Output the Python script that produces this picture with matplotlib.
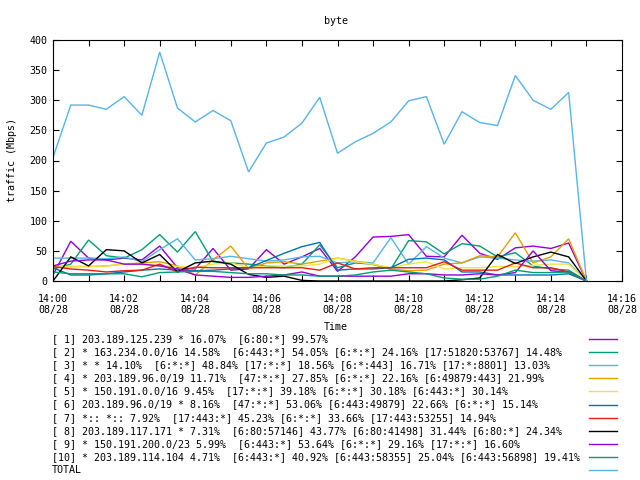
import matplotlib
matplotlib.use("Agg")
import matplotlib.pyplot as plt
import matplotlib.dates as mdates
from matplotlib.lines import Line2D
import datetime as dt

# ---------------- data ----------------
start_time = dt.datetime(2023, 8, 28, 14, 0, 0)
n_points = 31
step_seconds = 30

s1 = [10, 66, 38, 35, 38, 35, 58, 22, 20, 54, 18, 20, 52, 28, 40, 54, 16, 40, 73, 74, 77, 41, 40, 76, 46, 36, 55, 58, 54, 63, 0]
s2 = [20, 28, 68, 42, 38, 52, 77, 48, 82, 32, 30, 28, 25, 22, 28, 60, 22, 30, 28, 20, 67, 65, 45, 62, 58, 40, 47, 25, 20, 18, 0]
s3 = [38, 38, 38, 37, 40, 32, 52, 70, 35, 37, 41, 37, 33, 35, 40, 41, 30, 32, 30, 72, 28, 57, 38, 30, 40, 38, 35, 33, 35, 30, 0]
s4 = [22, 24, 24, 25, 28, 30, 32, 25, 10, 35, 58, 20, 30, 32, 28, 33, 38, 33, 27, 20, 17, 18, 28, 30, 42, 40, 80, 30, 40, 70, 0]
s5 = [25, 24, 24, 25, 28, 28, 25, 24, 22, 28, 30, 22, 25, 25, 25, 28, 38, 32, 28, 22, 28, 32, 20, 22, 22, 24, 24, 26, 28, 28, 0]
s6 = [22, 10, 10, 12, 15, 18, 20, 18, 17, 18, 20, 22, 34, 46, 57, 64, 18, 20, 20, 22, 36, 38, 35, 15, 15, 10, 10, 10, 10, 12, 0]
s7 = [24, 20, 18, 15, 17, 18, 28, 15, 23, 22, 22, 22, 22, 22, 22, 18, 30, 20, 22, 22, 22, 22, 32, 18, 18, 18, 30, 22, 22, 15, 0]
s8 = [0, 40, 25, 52, 50, 30, 44, 15, 30, 33, 28, 11, 6, 8, 1, 0, 0, 0, 0, 0, 0, 0, 0, 2, 5, 44, 29, 40, 48, 40, 0]
s9 = [25, 33, 35, 35, 28, 28, 25, 20, 10, 8, 6, 6, 8, 10, 15, 8, 8, 8, 8, 8, 12, 12, 10, 10, 12, 10, 14, 50, 17, 15, 0]
s10 = [15, 12, 12, 12, 12, 7, 14, 15, 16, 16, 14, 12, 12, 10, 10, 8, 8, 10, 15, 18, 15, 12, 5, 3, 3, 8, 18, 14, 14, 15, 0]
total = [205, 292, 292, 285, 306, 275, 380, 287, 264, 283, 266, 181, 229, 239, 262, 305, 212, 231, 245, 264, 299, 306, 227, 281, 263, 258, 341, 300, 285, 313, 0]

labels = [
    "[ 1] 203.189.125.239 * 16.07%  [6:80:*] 99.57%",
    "[ 2] * 163.234.0.0/16 14.58%  [6:443:*] 54.05% [6:*:*] 24.16% [17:51820:53767] 14.48%",
    "[ 3] * * 14.10%  [6:*:*] 48.84% [17:*:*] 18.56% [6:*:443] 16.71% [17:*:8801] 13.03%",
    "[ 4] * 203.189.96.0/19 11.71%  [47:*:*] 27.85% [6:*:*] 22.16% [6:49879:443] 21.99%",
    "[ 5] * 150.191.0.0/16 9.45%  [17:*:*] 39.18% [6:*:*] 30.18% [6:443:*] 30.14%",
    "[ 6] 203.189.96.0/19 * 8.16%  [47:*:*] 53.06% [6:443:49879] 22.66% [6:*:*] 15.14%",
    "[ 7] *:: *:: 7.92%  [17:443:*] 45.23% [6:*:*] 33.66% [17:443:53255] 14.94%",
    "[ 8] 203.189.117.171 * 7.31%  [6:80:57146] 43.77% [6:80:41498] 31.44% [6:80:*] 24.34%",
    "[ 9] * 150.191.200.0/23 5.99%  [6:443:*] 53.64% [6:*:*] 29.16% [17:*:*] 16.60%",
    "[10] * 203.189.114.104 4.71%  [6:443:*] 40.92% [6:443:58355] 25.04% [6:443:56898] 19.41%",
    "TOTAL",
]
series = [s1, s2, s3, s4, s5, s6, s7, s8, s9, s10, total]
colors = ["#9400d3", "#009e73", "#56b4e9", "#e69f00", "#f0e442", "#0072b2",
          "#e51e10", "#000000", "#9400d3", "#009e73", "#56b4e9"]

title = "byte"
xlabel = "Time"
ylabel = "traffic (Mbps)"

# ---------------- figure ----------------
W, H = 640, 480
plt.rcParams["font.family"] = ["DejaVu Sans Mono", "DejaVu Sans"]
FS = 7.2
fig = plt.figure(figsize=(6.4, 4.8), dpi=100)

L, R, T, B = 53, 622, 40, 281
ax = fig.add_axes([L / W, 1 - B / H, (R - L) / W, (B - T) / H])

times = [start_time + dt.timedelta(seconds=step_seconds * i) for i in range(n_points)]

for ys, c in zip(series, colors):
    ax.plot(times, ys, color=c, lw=1.0, solid_joinstyle="miter", antialiased=True)

ax.set_xlim(start_time, start_time + dt.timedelta(minutes=16))
ax.set_ylim(0, 400)
ax.set_yticks(range(0, 401, 50))
ax.xaxis.set_major_locator(mdates.MinuteLocator(byminute=range(0, 60, 2)))
ax.xaxis.set_minor_locator(mdates.MinuteLocator(byminute=range(1, 60, 2)))
ax.xaxis.set_major_formatter(mdates.DateFormatter("%H:%M\n%m/%d"))
ax.tick_params(axis="both", which="both", direction="in", top=True, right=True,
               length=4, width=0.8, labelsize=FS, color="black")
ax.tick_params(axis="x", which="major", pad=9)
ax.tick_params(axis="y", which="major", pad=4)
for lab in ax.get_xticklabels():
    lab.set_linespacing(1.25)
for sp in ax.spines.values():
    sp.set_linewidth(0.8)

fig.text(336 / W, 1 - 21 / H, title, ha="center", va="center", fontsize=FS)
fig.text(336 / W, 1 - 327 / H, xlabel, ha="center", va="center", fontsize=FS)
fig.text(12 / W, 1 - 160 / H, ylabel, ha="center", va="center", rotation=90, fontsize=FS)

# legend rows
for i, (lab, c) in enumerate(zip(labels, colors)):
    y = 339 + 13.1 * i
    fig.text(52 / W, 1 - y / H, lab, ha="left", va="center", fontsize=FS)
    fig.add_artist(Line2D([589 / W, 617 / W], [1 - y / H, 1 - y / H],
                          transform=fig.transFigure, color=c, lw=1.0))

fig.savefig("out.png", dpi=100)
